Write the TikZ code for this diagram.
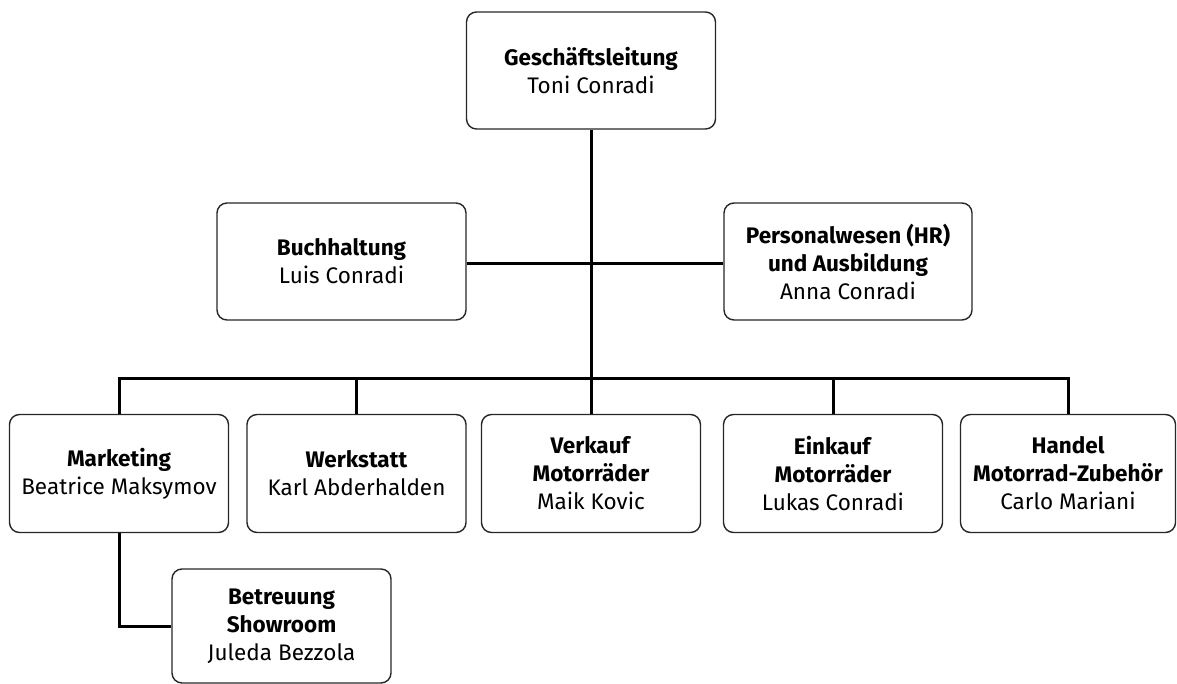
\documentclass[tikz,border=0pt]{standalone}
\usepackage{fontspec}
\setmainfont{Fira Sans}
\begin{document}
\begin{tikzpicture}[x=1pt,y=-1pt,
  box/.style={draw=black!85, line width=1.4pt, rounded corners=10pt, align=center,
    inner sep=0pt, minimum width=219pt, minimum height=118pt,
    font=\fontsize{22.5}{28}\selectfont},
  conn/.style={line width=3pt, black}]
\useasboundingbox (0,0) rectangle (1177,684);
\node[box, minimum width=249pt, minimum height=117pt] (gl) at (591,70.5) {\textbf{Geschäftsleitung}\\Toni Conradi};
\node[box, minimum width=249pt, minimum height=117pt] (buch) at (341.5,261.5) {\textbf{Buchhaltung}\\Luis Conradi};
\node[box, minimum width=248pt, minimum height=117pt] (pers) at (848,261.5) {\textbf{Personalwesen (HR)}\\\textbf{und Ausbildung}\\Anna Conradi};
\node[box] (mark) at (119,473.5) {\textbf{Marketing}\\Beatrice Maksymov};
\node[box] (werk) at (356.5,473.5) {\textbf{Werkstatt}\\Karl Abderhalden};
\node[box] (verk) at (591,473.5) {\textbf{Verkauf}\\\textbf{Motorräder}\\Maik Kovic};
\node[box] (eink) at (833,473.5) {\textbf{Einkauf}\\\textbf{Motorräder}\\Lukas Conradi};
\node[box, minimum width=215pt] (hand) at (1068,473.5) {\textbf{Handel}\\\textbf{Motorrad-Zubehör}\\Carlo Mariani};
\node[box, minimum height=114pt] (betr) at (281.5,626) {\textbf{Betreuung}\\\textbf{Showroom}\\Juleda Bezzola};
\coordinate (mid) at (591,264);
\coordinate (busc) at (591,378);
\draw[conn] (gl.south) -- (verk.north);
\draw[conn] (buch.east |- mid) -- (pers.west |- mid);
\draw[conn] (mark.north) |- (busc) -| (hand.north);
\draw[conn] (werk.north) -- (werk.north |- busc);
\draw[conn] (eink.north) -- (eink.north |- busc);
\draw[conn] (mark.south) |- (betr.west);
\end{tikzpicture}
\end{document}
